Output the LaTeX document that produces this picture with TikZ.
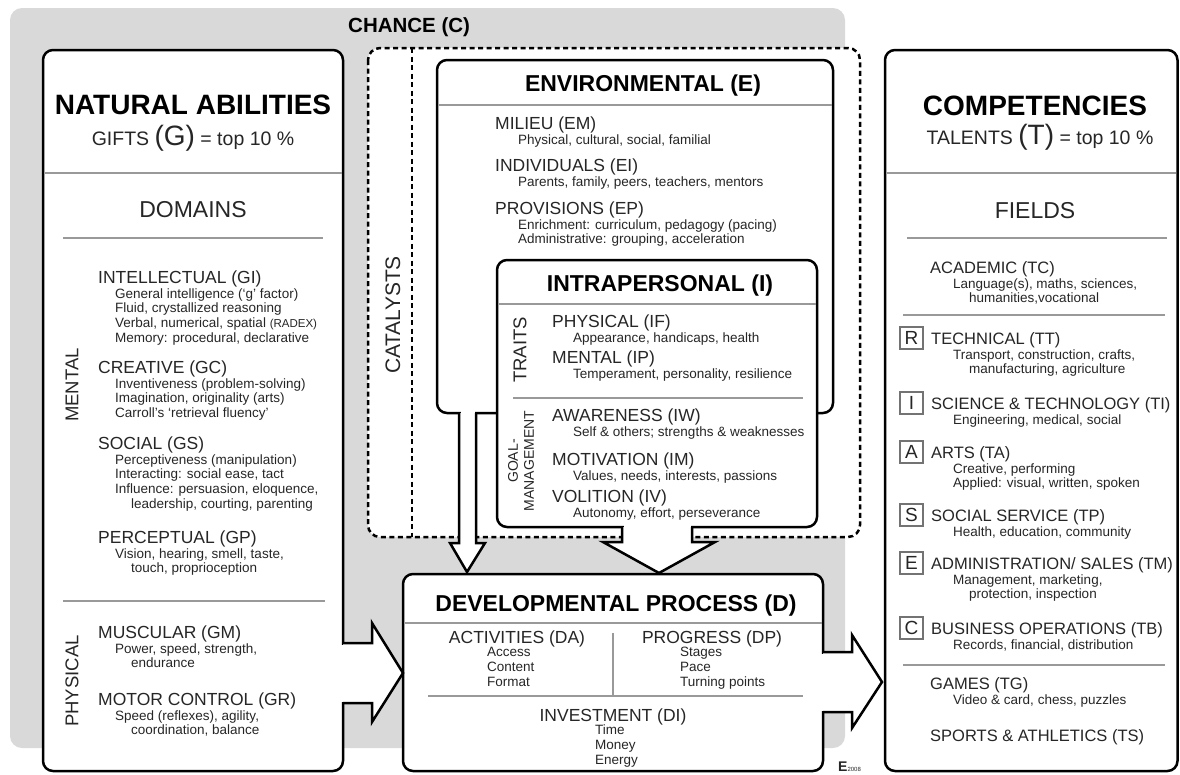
\documentclass[tikz,border=0pt]{standalone}
\usepackage{fontspec}
\setmainfont{Liberation Sans}
\newcommand{\pxfont}[1]{\fontsize{#1}{#1}\selectfont}
\newcommand{\itemblock}[6]{%
  \node[itemhead] (#1) at (#2,#3+6.3) {#5};
  \foreach \subline [count=\k] in {#6}
    \node[itemsub] (#1-\k) at (#2+#4,#3+6.7+\k*14.6) {\subline};
}
\tikzset{
  panel/.style={draw=black, line width=2.5pt, rounded corners=10pt, fill=white},
  divider/.style={draw=black!40, line width=1.4pt},
  boxtitle/.style={font=\bfseries\pxfont{23}, inner sep=0pt, anchor=base},
  bigtitle/.style={font=\bfseries\pxfont{28}, inner sep=0pt, anchor=base},
  plaintitle/.style={inner sep=0pt, anchor=base, text=black!85},
  itemhead/.style={font=\pxfont{17.5}, text=black!85, inner sep=0pt, anchor=base west},
  itemsub/.style={font=\pxfont{13.5}, text=black!85, inner sep=0pt, anchor=base west},
  vlabel/.style={rotate=90, font=\pxfont{18.5}, text=black!85, inner sep=0pt},
  fieldletter/.style={draw=black!55, line width=1.2pt, minimum width=23pt, minimum height=22pt, inner sep=0pt, font=\pxfont{19}, text=black!85},
  blockarrow/.style={draw=black, line width=2.5pt, fill=white, line join=miter},
  catalysts/.style={draw=black, line width=2.5pt, dash pattern=on 5pt off 3.5pt},
}
\begin{document}
\begin{tikzpicture}[x=1pt, y=-1pt]
\useasboundingbox (0,0) rectangle (1180,774);
\fill[black!15, rounded corners=12pt] (10,8) rectangle (845,748);
\node[boxtitle, anchor=base west, font=\bfseries\pxfont{20.5}] (chance) at (348,32) {CHANCE (C)};
\draw[catalysts, fill=white, rounded corners=12pt] (368,48) rectangle (860,537);
\draw[catalysts] (412,48) -- (412,537);
\node[vlabel, font=\pxfont{21}] (cat) at (393,315) {CATALYSTS};
\draw[panel] (437,60) rectangle (833,413);
\node[boxtitle] (envtitle) at (643,91.3) {ENVIRONMENTAL (E)};
\draw[divider] (438.5,105) -- (831.5,105);
\itemblock{em}{495}{123}{23}{MILIEU (EM)}{{Physical, cultural, social, familial}}
\itemblock{ei}{495}{165}{23}{INDIVIDUALS (EI)}{{Parents, family, peers, teachers, mentors}}
\itemblock{ep}{495}{208}{23}{PROVISIONS (EP)}{{Enrichment: curriculum, pedagogy (pacing)},{Administrative: grouping, acceleration}}
\fill[white] (460.5,411) rectangle (474.5,415);
\draw[blockarrow] (459,413) -- (459,543) -- (450,543) -- (467,572) -- (485,543) -- (476,543) -- (476,413);
\draw[panel] (497,260) rectangle (817,527);
\node[boxtitle] (intratitle) at (660,291.3) {INTRAPERSONAL (I)};
\draw[divider] (498.5,304) -- (815.5,304);
\node[vlabel] (traits) at (520,350) {TRAITS};
\itemblock{if}{552}{321}{21}{PHYSICAL (IF)}{{Appearance, handicaps, health}}
\itemblock{ip}{552}{357}{21}{MENTAL (IP)}{{Temperament, personality, resilience}}
\draw[divider] (513,398) -- (803,398);
\node[vlabel, font=\pxfont{14}] (goal) at (513,461) {GOAL-};
\node[vlabel, font=\pxfont{14}] (management) at (529,461) {MANAGEMENT};
\itemblock{iw}{552}{415}{21}{AWARENESS (IW)}{{Self \& others; strengths \& weaknesses}}
\itemblock{im}{552}{459}{21}{MOTIVATION (IM)}{{Values, needs, interests, passions}}
\itemblock{iv}{552}{496}{21}{VOLITION (IV)}{{Autonomy, effort, perseverance}}
\fill[white] (623.5,525) rectangle (690.5,529);
\draw[blockarrow] (622,527) -- (622,542) -- (603,542) -- (659,573) -- (715,542) -- (692,542) -- (692,527);
\draw[panel] (43,50) rectangle (343,771);
\node[bigtitle] (nattitle) at (193,114) {NATURAL ABILITIES};
\node[plaintitle, font=\pxfont{19.5}] (gifts) at (193,145) {GIFTS {\pxfont{28}(G)} = top 10 \%};
\draw[divider] (44.5,173) -- (341.5,173);
\node[plaintitle, font=\pxfont{23}] (domains) at (193,217) {DOMAINS};
\draw[divider] (63,238) -- (323,238);
\itemblock{gi}{98}{277}{17}{INTELLECTUAL (GI)}{{General intelligence (`g' factor)},{Fluid, crystallized reasoning},{Verbal, numerical, spatial {\pxfont{11.5}(RADEX)}},{Memory: procedural, declarative}}
\itemblock{gc}{98}{367}{17}{CREATIVE (GC)}{{Inventiveness (problem-solving)},{Imagination, originality (arts)},{Carroll's `retrieval fluency'}}
\itemblock{gs}{98}{443}{17}{SOCIAL (GS)}{{Perceptiveness (manipulation)},{Interacting: social ease, tact},{Influence: persuasion, eloquence,},{\hspace*{16pt}leadership, courting, parenting}}
\itemblock{gp}{98}{537}{17}{PERCEPTUAL (GP)}{{Vision, hearing, smell, taste,},{\hspace*{16pt}touch, proprioception}}
\draw[divider] (63,601) -- (325,601);
\itemblock{gm}{98}{632}{17}{MUSCULAR (GM)}{{Power, speed, strength,},{\hspace*{16pt}endurance}}
\itemblock{gr}{98}{699}{17}{MOTOR CONTROL (GR)}{{Speed (reflexes), agility,},{\hspace*{16pt}coordination, balance}}
\node[vlabel] (mental) at (72,385) {MENTAL};
\node[vlabel] (physical) at (72,681) {PHYSICAL};
\draw[panel] (403,574) rectangle (823,771);
\node[boxtitle] (devtitle) at (616,611.3) {DEVELOPMENTAL PROCESS (D)};
\draw[divider] (404.5,623) -- (821.5,623);
\node[itemhead, anchor=base] (da) at (517,643.3) {ACTIVITIES (DA)};
\foreach \subline [count=\k] in {Access,Content,Format}
  \node[itemsub] (da-\k) at (487,642.2+\k*14.6) {\subline};
\node[itemhead, anchor=base] (dp) at (712,643.3) {PROGRESS (DP)};
\foreach \subline [count=\k] in {Stages,Pace,Turning points}
  \node[itemsub] (dp-\k) at (680,642.2+\k*14.6) {\subline};
\draw[divider] (613,633) -- (613,696);
\draw[divider] (428,696) -- (803,696);
\node[itemhead, anchor=base] (di) at (613,721.3) {INVESTMENT (DI)};
\foreach \subline [count=\k] in {Time,Money,Energy}
  \node[itemsub] (di-\k) at (595,720.2+\k*14.6) {\subline};
\node[anchor=base west, inner sep=0pt, text=black!85] (logo) at (838,771) {\pxfont{14}\textbf{E}\pxfont{6}2008};
\fill[white] (341,644.5) rectangle (345,701.5);
\draw[blockarrow] (343,643) -- (372,643) -- (372,623) -- (403,673) -- (372,722) -- (372,703) -- (343,703);
\fill[white] (821,653.5) rectangle (825,710.5);
\draw[blockarrow] (823,652) -- (852,652) -- (852,635) -- (882,682) -- (852,728) -- (852,712) -- (823,712);
\draw[panel] (885,50) rectangle (1177.5,771);
\node[bigtitle] (comptitle) at (1035,115) {COMPETENCIES};
\node[plaintitle, font=\pxfont{19.5}] (talents) at (1040,144) {TALENTS {\pxfont{28}(T)} = top 10 \%};
\draw[divider] (886.5,173) -- (1176,173);
\node[plaintitle, font=\pxfont{23}] (fields) at (1035,218) {FIELDS};
\draw[divider] (907,238) -- (1167,238);
\begin{scope}[itemhead/.append style={font=\pxfont{16.5}}]
\itemblock{tc}{930}{267}{23}{ACADEMIC (TC)}{{Language(s), maths, sciences,},{\hspace*{16pt}humanities,vocational}}
\draw[divider] (903,315) -- (1165,315);
\itemblock{tt}{931}{338}{22}{TECHNICAL (TT)}{{Transport, construction, crafts,},{\hspace*{16pt}manufacturing, agriculture}}
\itemblock{ti}{931}{403}{22}{SCIENCE \& TECHNOLOGY (TI)}{{Engineering, medical, social}}
\itemblock{ta}{931}{452}{22}{ARTS (TA)}{{Creative, performing},{Applied: visual, written, spoken}}
\itemblock{tp}{931}{515}{22}{SOCIAL SERVICE (TP)}{{Health, education, community}}
\itemblock{tm}{931}{563}{22}{ADMINISTRATION/ SALES (TM)}{{Management, marketing,},{\hspace*{16pt}protection, inspection}}
\itemblock{tb}{931}{628}{22}{BUSINESS OPERATIONS (TB)}{{Records, financial, distribution}}
\foreach \ltr/\ly in {R/338,I/403,A/452,S/515,E/563,C/628}
  \node[fieldletter] (box-\ltr) at (911.5,\ly) {\ltr};
\draw[divider] (903,665) -- (1165,665);
\itemblock{tg}{930}{683}{23}{GAMES (TG)}{{Video \& card, chess, puzzles}}
\node[itemhead] (ts) at (930,741.3) {SPORTS \& ATHLETICS (TS)};
\end{scope}
\end{tikzpicture}
\end{document}
